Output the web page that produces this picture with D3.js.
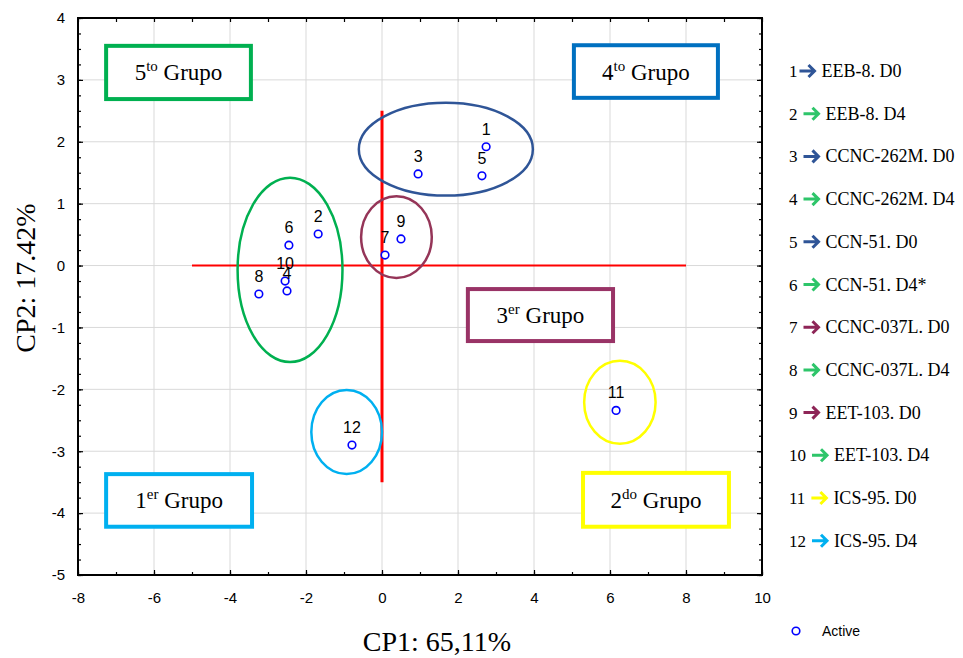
<!DOCTYPE html>
<html>
<head>
<meta charset="utf-8">
<script src="https://cdn.jsdelivr.net/npm/d3@7"></script>
<style>
  body { margin: 0; background: #fff; }
  svg { display: block; }
</style>
</head>
<body>
<svg id="chart"></svg>
<script>
// puntos (CP1, CP2)
const pointIds = ["1", "2", "3", "4", "5", "6", "7", "8", "9", "10", "11", "12"];
const cp1 = [2.74, -1.68, 0.95, -2.50, 2.63, -2.45, 0.08, -3.24, 0.50, -2.55, 6.16, -0.79];
const cp2 = [1.92, 0.51, 1.48, -0.41, 1.45, 0.33, 0.17, -0.46, 0.43, -0.25, -2.34, -2.90];

// leyenda
const legendNames = ["EEB-8. D0", "EEB-8. D4", "CCNC-262M. D0", "CCNC-262M. D4", "CCN-51. D0", "CCN-51. D4*",
  "CCNC-037L. D0", "CCNC-037L. D4", "EET-103. D0", "EET-103. D4", "ICS-95. D0", "ICS-95. D4"];
const legendColors = ["#2f5597", "#2ec56a", "#2f5597", "#2ec56a", "#2f5597", "#2ec56a",
  "#8e2557", "#2ec56a", "#8e2557", "#2ec56a", "#ffff00", "#00b0f0"];

// elipses de grupos: centro y radios en unidades de datos
const ellCx = [1.68, -2.42, 0.38, -0.93, 6.26];
const ellCy = [1.88, -0.07, 0.46, -2.69, -2.21];
const ellRx = [2.29, 1.38, 0.93, 0.93, 0.94];
const ellRy = [0.75, 1.49, 0.66, 0.68, 0.67];
const ellColors = ["#2f5597", "#00b050", "#953558", "#00b0f0", "#ffff00"];

// cuadros de grupo
const groupNum = ["5", "4", "3", "1", "2"];
const groupSup = ["to", "to", "er", "er", "do"];
const groupX0 = [-7.26, 5.05, 2.26, -7.26, 5.29];
const groupX1 = [-3.45, 8.84, 6.08, -3.42, 9.13];
const groupY0 = [3.55, 3.56, -0.38, -3.37, -3.35];
const groupY1 = [2.69, 2.71, -1.22, -4.22, -4.22];
const groupColors = ["#00b050", "#0070c0", "#993366", "#00b0f0", "#ffff00"];

// ejes rojos
const hLine = [[-5, 0], [8, 0]];
const vLine = [[0, 2.5], [0, -3.5]];

const xTicks = [-8, -6, -4, -2, 0, 2, 4, 6, 8, 10];
const yTicks = [-5, -4, -3, -2, -1, 0, 1, 2, 3, 4];

const width = 963;
const height = 658;
const marginTop = 18;
const marginRight = 201;
const marginBottom = 83;
const marginLeft = 78;

const x = d3.scaleLinear().domain([-8, 10]).range([marginLeft, width - marginRight]);
const y = d3.scaleLinear().domain([-5, 4]).range([height - marginBottom, marginTop]);

const svg = d3.select("#chart")
  .attr("width", width)
  .attr("height", height)
  .attr("viewBox", [0, 0, width, height]);

// rejilla
svg.append("g")
  .attr("stroke", "#d9d9d9")
  .attr("stroke-width", 1)
  .call(g => g.selectAll(".vx").data(xTicks).join("line")
    .attr("x1", d => x(d)).attr("x2", d => x(d))
    .attr("y1", y(-5)).attr("y2", y(4)))
  .call(g => g.selectAll(".hy").data(yTicks).join("line")
    .attr("x1", x(-8)).attr("x2", x(10))
    .attr("y1", d => y(d)).attr("y2", d => y(d)));

// ejes con marcas hacia dentro
const minorX = d3.range(-8, 10.01, 1);
const minorY = d3.range(-5, 4.01, 0.25);
const fmt = d => String(d);   // guion normal, no signo menos

function styleAxis(g) {
  g.select(".domain").remove();
  g.selectAll(".tick line").attr("stroke", "#000").attr("stroke-width", 1.2);
}

svg.append("g")
  .attr("transform", `translate(0,${y(-5)})`)
  .call(d3.axisBottom(x).tickValues(minorX).tickSize(-3).tickFormat(""))
  .call(styleAxis);
svg.append("g")
  .attr("transform", `translate(0,${y(-5)})`)
  .call(d3.axisBottom(x).tickValues(xTicks).tickSize(-5).tickPadding(17).tickFormat(fmt))
  .call(styleAxis)
  .call(g => g.selectAll("text").attr("font-family", "Liberation Sans, Arial, sans-serif")
    .attr("font-size", 15).attr("fill", "#000"));

svg.append("g")
  .attr("transform", `translate(0,${y(4)})`)
  .call(d3.axisTop(x).tickValues(minorX).tickSize(-4).tickFormat(""))
  .call(styleAxis);

svg.append("g")
  .attr("transform", `translate(${x(-8)},0)`)
  .call(d3.axisLeft(y).tickValues(minorY).tickSize(-3).tickFormat(""))
  .call(styleAxis);
svg.append("g")
  .attr("transform", `translate(${x(-8)},0)`)
  .call(d3.axisLeft(y).tickValues(yTicks).tickSize(-5).tickPadding(13).tickFormat(fmt))
  .call(styleAxis)
  .call(g => g.selectAll("text").attr("font-family", "Liberation Sans, Arial, sans-serif")
    .attr("font-size", 15).attr("fill", "#000"));

svg.append("g")
  .attr("transform", `translate(${x(10)},0)`)
  .call(d3.axisRight(y).tickValues(minorY).tickSize(-3).tickFormat(""))
  .call(styleAxis);
svg.append("g")
  .attr("transform", `translate(${x(10)},0)`)
  .call(d3.axisRight(y).tickValues(yTicks).tickSize(-5).tickFormat(""))
  .call(styleAxis);

// marco
svg.append("rect")
  .attr("x", x(-8)).attr("y", y(4))
  .attr("width", x(10) - x(-8)).attr("height", y(-5) - y(4))
  .attr("fill", "none").attr("stroke", "#000").attr("stroke-width", 2);

// líneas rojas
const line = d3.line().x(d => x(d[0])).y(d => y(d[1]));
svg.append("path").attr("d", line(hLine))
  .attr("stroke", "#ff0000").attr("stroke-width", 2).attr("fill", "none");
svg.append("path").attr("d", line(vLine))
  .attr("stroke", "#ff0000").attr("stroke-width", 3).attr("fill", "none");

// elipses
svg.append("g").selectAll("ellipse")
  .data(ellCx)
  .join("ellipse")
  .attr("cx", d => x(d))
  .attr("cy", (d, i) => y(ellCy[i]))
  .attr("rx", (d, i) => x(ellRx[i]) - x(0))
  .attr("ry", (d, i) => y(0) - y(ellRy[i]))
  .attr("fill", "none")
  .attr("stroke", (d, i) => ellColors[i])
  .attr("stroke-width", 2.5);

// cuadros de grupo
const boxes = svg.append("g").selectAll("g")
  .data(groupNum)
  .join("g");
boxes.append("rect")
  .attr("x", (d, i) => x(groupX0[i]))
  .attr("y", (d, i) => y(groupY0[i]))
  .attr("width", (d, i) => x(groupX1[i]) - x(groupX0[i]))
  .attr("height", (d, i) => y(groupY1[i]) - y(groupY0[i]))
  .attr("fill", "#fff")
  .attr("stroke", (d, i) => groupColors[i])
  .attr("stroke-width", 4);
const boxText = boxes.append("text")
  .attr("x", (d, i) => (x(groupX0[i]) + x(groupX1[i])) / 2)
  .attr("y", (d, i) => (y(groupY0[i]) + y(groupY1[i])) / 2 + 8)
  .attr("text-anchor", "middle")
  .attr("font-family", "Liberation Serif, Times New Roman, serif")
  .attr("font-size", 23)
  .attr("fill", "#000");
boxText.append("tspan").text(d => d);
boxText.append("tspan").attr("dy", -9).attr("font-size", 15).text((d, i) => groupSup[i]);
boxText.append("tspan").attr("dy", 9).text(" Grupo");

// puntos
svg.append("g").selectAll("circle")
  .data(cp1)
  .join("circle")
  .attr("cx", d => x(d))
  .attr("cy", (d, i) => y(cp2[i]))
  .attr("r", 3.8)
  .attr("fill", "#fff")
  .attr("stroke", "#0000ff")
  .attr("stroke-width", 1.6);

svg.append("g").selectAll("text")
  .data(cp1)
  .join("text")
  .attr("x", d => x(d))
  .attr("y", (d, i) => y(cp2[i]) - 12)
  .attr("text-anchor", "middle")
  .attr("font-family", "Liberation Sans, Arial, sans-serif")
  .attr("font-size", 16)
  .attr("fill", "#000")
  .text((d, i) => pointIds[i]);

// títulos de ejes
svg.append("text")
  .attr("x", 437).attr("y", 651)
  .attr("text-anchor", "middle")
  .attr("font-family", "Liberation Serif, Times New Roman, serif")
  .attr("font-size", 28)
  .attr("fill", "#000")
  .text("CP1: 65,11%");
svg.append("text")
  .attr("transform", `translate(35,278) rotate(-90)`)
  .attr("text-anchor", "middle")
  .attr("font-family", "Liberation Serif, Times New Roman, serif")
  .attr("font-size", 28)
  .attr("fill", "#000")
  .text("CP2: 17.42%");

// leyenda
const legendX = 789;
const legendY0 = 77;
const legendStep = 42.7;
const legend = svg.append("g").selectAll("g")
  .data(legendNames)
  .join("g")
  .attr("transform", (d, i) => `translate(${legendX},${legendY0 + i * legendStep})`);
legend.each(function (d, i) {
  const g = d3.select(this);
  const num = g.append("text")
    .attr("font-family", "Liberation Serif, Times New Roman, serif")
    .attr("font-size", 17)
    .attr("fill", "#000")
    .text(pointIds[i]);
  const w = num.node().getComputedTextLength();
  const a0 = w + (i === 0 ? 2 : 6);
  g.append("path")
    .attr("d", `M${a0},-6H${a0 + 15}M${a0 + 9},-12L${a0 + 15},-6L${a0 + 9},0`)
    .attr("fill", "none")
    .attr("stroke", legendColors[i])
    .attr("stroke-width", 3);
  g.append("text")
    .attr("x", a0 + 22)
    .attr("font-family", "Liberation Serif, Times New Roman, serif")
    .attr("font-size", 18)
    .attr("fill", "#000")
    .text(d);
});

svg.append("circle")
  .attr("cx", 796).attr("cy", 631).attr("r", 3.8)
  .attr("fill", "#fff").attr("stroke", "#0000ff").attr("stroke-width", 1.6);
svg.append("text")
  .attr("x", 822).attr("y", 636)
  .attr("font-family", "Liberation Sans, Arial, sans-serif")
  .attr("font-size", 14)
  .attr("fill", "#000")
  .text("Active");
</script>
</body>
</html>
